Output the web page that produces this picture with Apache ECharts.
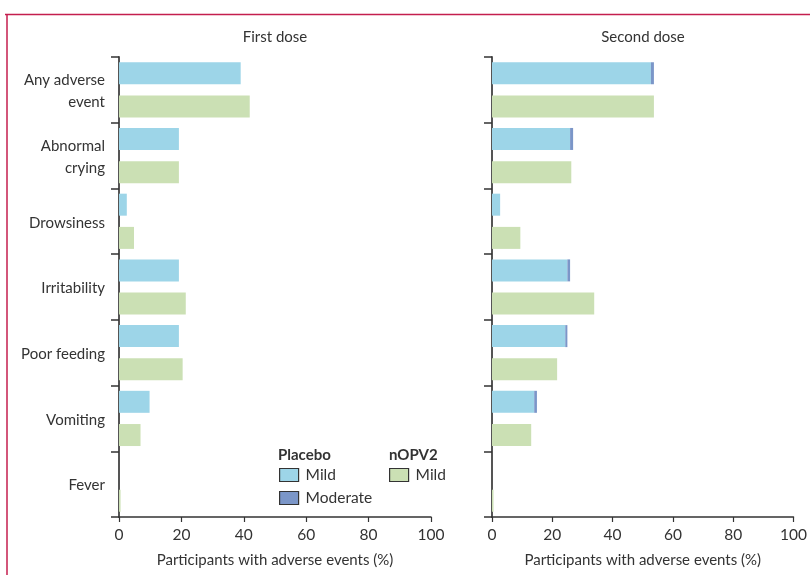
<!DOCTYPE html>
<html>
<head>
<meta charset="utf-8">
<script src="https://cdn.jsdelivr.net/npm/echarts@6/dist/echarts.min.js"></script>
<style>
  html, body { margin: 0; padding: 0; background: #fff; }
  #chart { width: 810px; height: 575px; }
</style>
</head>
<body>
<div id="chart"></div>
<script>
// Solicited adverse events after each dose, % of participants
const categories = ['Any adverse\nevent', 'Abnormal\ncrying', 'Drowsiness', 'Irritability', 'Poor feeding', 'Vomiting', 'Fever'];
const panelTitles = ['First dose', 'Second dose'];
const xTicks = [0, 20, 40, 60, 80, 100];

const firstPlaceboMild = [39.0, 19.2, 2.5, 19.2, 19.2, 9.8, 0];
const firstPlaceboModerate = [0, 0, 0, 0, 0, 0, 0];
const firstNopv2Mild = [41.9, 19.2, 4.8, 21.4, 20.4, 6.9, 0.5];

const secondPlaceboMild = [52.7, 25.9, 2.7, 25.0, 24.3, 14.0, 0];
const secondPlaceboModerate = [1.0, 1.0, 0, 0.9, 0.7, 0.9, 0];
const secondNopv2Mild = [53.7, 26.3, 9.4, 33.9, 21.6, 13.0, 0.5];

const FONT = 'Lato';
const TEXT = '#333';
const C_MILD = '#9dd5e8';
const C_MOD = '#7b96c8';
const C_NOPV = '#cbe0b4';

const grids = [
  { left: 119, top: 57, width: 312, height: 460 },
  { left: 492, top: 57, width: 302, height: 460 }
];

function xAxisFor(i) {
  return {
    type: 'value', gridIndex: i, min: 0, max: 100, interval: 20,
    name: 'Participants with adverse events (%)', nameLocation: 'middle', nameGap: 36,
    nameTextStyle: { fontFamily: FONT, fontSize: 15, color: TEXT },
    axisLine: { show: true, lineStyle: { color: '#333', width: 1.5 } },
    axisTick: { show: true, length: 5, lineStyle: { color: '#333', width: 1.2 } },
    axisLabel: { margin: 10, fontFamily: FONT, fontSize: 15.5, color: TEXT,
      formatter: v => xTicks.includes(v) ? String(v) : '' },
    splitLine: { show: false }
  };
}

function yAxisFor(i, showLabels) {
  return {
    type: 'category', gridIndex: i, data: categories, inverse: true,
    axisLine: { show: true, lineStyle: { color: '#555', width: 2 } },
    axisTick: { show: true, length: 8, lineStyle: { color: '#333', width: 1.5 } },
    axisLabel: {
      show: showLabels, margin: 14, align: 'right',
      formatter: v => v.split('\n').map(s => '{t|' + s + '}').join('\n'),
      rich: { t: { fontFamily: FONT, fontSize: 15, color: TEXT, lineHeight: 22, padding: [3, 0, 0, 0] } }
    }
  };
}

function seriesFor(i, mild, moderate, nopv) {
  const common = { type: 'bar', xAxisIndex: i, yAxisIndex: i, barWidth: 22, barGap: '51%', silent: true };
  return [
    Object.assign({}, common, { name: 'Placebo Mild', stack: 'placebo' + i, data: mild, itemStyle: { color: C_MILD } }),
    Object.assign({}, common, { name: 'Placebo Moderate', stack: 'placebo' + i, data: moderate, itemStyle: { color: C_MOD } }),
    Object.assign({}, common, { name: 'nOPV2 Mild', stack: 'nopv' + i, data: nopv, itemStyle: { color: C_NOPV } })
  ];
}

const legendCommon = {
  orient: 'vertical', icon: 'rect', itemWidth: 19, itemHeight: 13, itemGap: 7,
  selectedMode: false, padding: 0,
  textStyle: { fontFamily: FONT, fontSize: 15.5, color: TEXT, padding: [0, 0, 0, 2] },
  itemStyle: { borderColor: '#333', borderWidth: 1.2 },
  formatter: n => n.split(' ').pop()
};

const chart = echarts.init(document.getElementById('chart'), null, { renderer: 'canvas' });
chart.setOption({
  animation: false,
  backgroundColor: '#fff',
  grid: grids,
  xAxis: [xAxisFor(0), xAxisFor(1)],
  yAxis: [yAxisFor(0, true), yAxisFor(1, false)],
  legend: [
    Object.assign({}, legendCommon, { left: 279, top: 467, data: ['Placebo Mild', 'Placebo Moderate'] }),
    Object.assign({}, legendCommon, { left: 389, top: 467, data: ['nOPV2 Mild'] })
  ],
  series: [].concat(
    seriesFor(0, firstPlaceboMild, firstPlaceboModerate, firstNopv2Mild),
    seriesFor(1, secondPlaceboMild, secondPlaceboModerate, secondNopv2Mild)
  ),
  graphic: [
    // journal frame rule along the top and left edges
    { type: 'line', shape: { x1: 5, y1: 14.5, x2: 810, y2: 14.5 }, style: { stroke: '#c41e4e', lineWidth: 1.5 } },
    { type: 'line', shape: { x1: 7, y1: 14, x2: 7, y2: 575 }, style: { stroke: '#c41e4e', lineWidth: 1.5 } },
    // panel headings, centred over each plot
    ...panelTitles.map((t, i) => ({
      type: 'text', x: grids[i].left + grids[i].width / 2, y: 37,
      style: { text: t, font: '15px ' + FONT, fill: TEXT, textAlign: 'center', textVerticalAlign: 'middle' }
    })),
    // legend group headings
    { type: 'text', x: 278, y: 455, style: { text: 'Placebo', font: 'bold 15px ' + FONT, fill: TEXT, textVerticalAlign: 'middle' } },
    { type: 'text', x: 389, y: 455, style: { text: 'nOPV2', font: 'bold 15px ' + FONT, fill: TEXT, textVerticalAlign: 'middle' } }
  ]
});
</script>
</body>
</html>
